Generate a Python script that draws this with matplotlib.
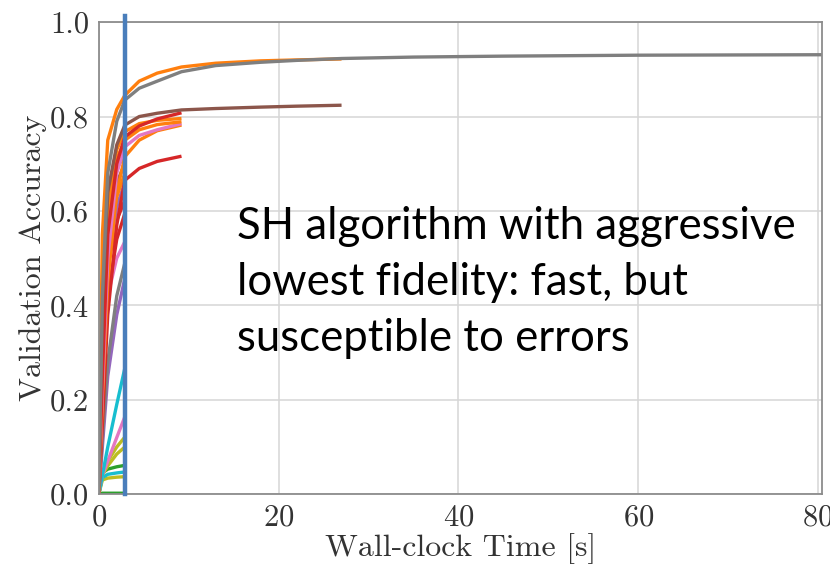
import matplotlib
matplotlib.use('Agg')
import matplotlib.pyplot as plt

# time grids [s] for each stage of successive halving
t_short = [0, 0.4, 1.0, 2.0, 2.9]
t_mid = [0, 0.4, 1.0, 2.0, 2.9, 4.5, 6.5, 9.2]
t_long = t_mid + [13, 18, 22, 27]
t_full = t_long + [35, 45, 60, 81]

# stage 1: configurations stopped at the lowest budget
red_a = [0, 0.30, 0.48, 0.58, 0.623]
red_b = [0, 0.22, 0.42, 0.54, 0.595]
pink_a = [0, 0.25, 0.42, 0.50, 0.535]
gray_a = [0, 0.12, 0.28, 0.42, 0.49]
purple_a = [0, 0.10, 0.25, 0.38, 0.457]
brown_a = [0, 0.35, 0.55, 0.66, 0.70]
purple_b = [0, 0.28, 0.50, 0.61, 0.66]
orange_a = [0, 0.30, 0.52, 0.63, 0.68]
gray_b = [0, 0.40, 0.60, 0.69, 0.72]
pink_b = [0, 0.28, 0.50, 0.60, 0.65]
cyan_a = [0, 0.04, 0.10, 0.19, 0.267]
pink_c = [0, 0.04, 0.07, 0.12, 0.164]
olive_a = [0, 0.045, 0.07, 0.10, 0.121]
olive_b = [0, 0.04, 0.06, 0.085, 0.10]
green_a = [0, 0.045, 0.053, 0.058, 0.061]
cyan_b = [0, 0.035, 0.042, 0.045, 0.047]
olive_c = [0, 0.03, 0.034, 0.036, 0.037]
green_b = [0, 0.002, 0.002, 0.002, 0.002]

# stage 2
red_c = [0, 0.25, 0.55, 0.70, 0.757, 0.78, 0.795, 0.808]
orange_b = [0, 0.35, 0.62, 0.73, 0.768, 0.785, 0.792, 0.796]
orange_c = [0, 0.30, 0.58, 0.71, 0.75, 0.772, 0.783, 0.789]
orange_d = [0, 0.20, 0.45, 0.64, 0.715, 0.75, 0.77, 0.782]
pink_d = [0, 0.22, 0.50, 0.68, 0.736, 0.76, 0.772, 0.785]
red_d = [0, 0.15, 0.38, 0.57, 0.665, 0.69, 0.705, 0.716]

# stage 3
orange_top = [0, 0.55, 0.75, 0.815, 0.845, 0.875, 0.892, 0.905, 0.913, 0.918, 0.92, 0.922]
brown_b = [0, 0.40, 0.64, 0.74, 0.782, 0.80, 0.807, 0.814, 0.817, 0.82, 0.822, 0.824]

# stage 4: the survivor trained on the full budget
gray_top = [0, 0.42, 0.68, 0.79, 0.835, 0.86, 0.875, 0.895, 0.908, 0.915, 0.919,
            0.923, 0.926, 0.928, 0.930, 0.931]

budget_min = 2.9

C = {'blue': '#1f77b4', 'orange': '#ff7f0e', 'green': '#2ca02c', 'red': '#d62728',
     'purple': '#9467bd', 'brown': '#8c564b', 'pink': '#e377c2', 'gray': '#7f7f7f',
     'olive': '#bcbd22', 'cyan': '#17becf'}

runs = [
    (t_short, green_b, 'green'), (t_short, olive_c, 'olive'), (t_short, cyan_b, 'cyan'),
    (t_short, green_a, 'green'), (t_short, olive_b, 'olive'), (t_short, olive_a, 'olive'),
    (t_short, pink_c, 'pink'), (t_short, cyan_a, 'cyan'), (t_short, purple_a, 'purple'),
    (t_short, gray_a, 'gray'), (t_short, pink_a, 'pink'), (t_short, red_b, 'red'),
    (t_short, red_a, 'red'), (t_short, pink_b, 'pink'), (t_short, purple_b, 'purple'),
    (t_short, orange_a, 'orange'), (t_short, brown_a, 'brown'), (t_short, gray_b, 'gray'),
    (t_mid, red_d, 'red'), (t_mid, orange_d, 'orange'), (t_mid, pink_d, 'pink'),
    (t_mid, orange_c, 'orange'), (t_mid, orange_b, 'orange'), (t_mid, red_c, 'red'),
    (t_long, brown_b, 'brown'), (t_long, orange_top, 'orange'),
    (t_full, gray_top, 'gray'),
]

plt.rcParams['font.family'] = 'cmr10'
plt.rcParams['axes.formatter.use_mathtext'] = True

fig = plt.figure(figsize=(8.3, 5.68), dpi=100)
ax = fig.add_axes([0.119, 0.130, 0.871, 0.831])

for t, acc, c in runs:
    ax.plot(t, acc, color=C[c], lw=2.4, solid_capstyle='butt')

ax.axvline(budget_min, ymin=0, ymax=1.012, color='#4a7ebb', lw=3.2, clip_on=False, zorder=5)

ax.set_xlim(0, 80.4)
ax.set_ylim(0, 1.0)
ax.set_xticks([0, 20, 40, 60, 80])
ax.set_yticks([0.0, 0.2, 0.4, 0.6, 0.8, 1.0])
ax.set_yticklabels(['0.0', '0.2', '0.4', '0.6', '0.8', '1.0'])
ax.grid(True, color='#d6d6d6', lw=1.1)
ax.set_axisbelow(True)
for s in ax.spines.values():
    s.set_color('#8c8c8c')
    s.set_linewidth(1.3)
ax.tick_params(length=0, pad=7, labelsize=22, labelcolor='#333333')
ax.set_xlabel('Wall-clock Time [s]', fontsize=23, color='#333333', labelpad=1)
ax.set_ylabel('Validation Accuracy', fontsize=23, color='#333333', labelpad=2)

ax.text(15.4, 0.303, 'SH algorithm with aggressive\nlowest fidelity: fast, but\nsusceptible to errors',
        family='Lato', fontsize=31.5, color='black', ha='left', va='baseline', linespacing=1.45)

fig.savefig('out.png', dpi=100)
